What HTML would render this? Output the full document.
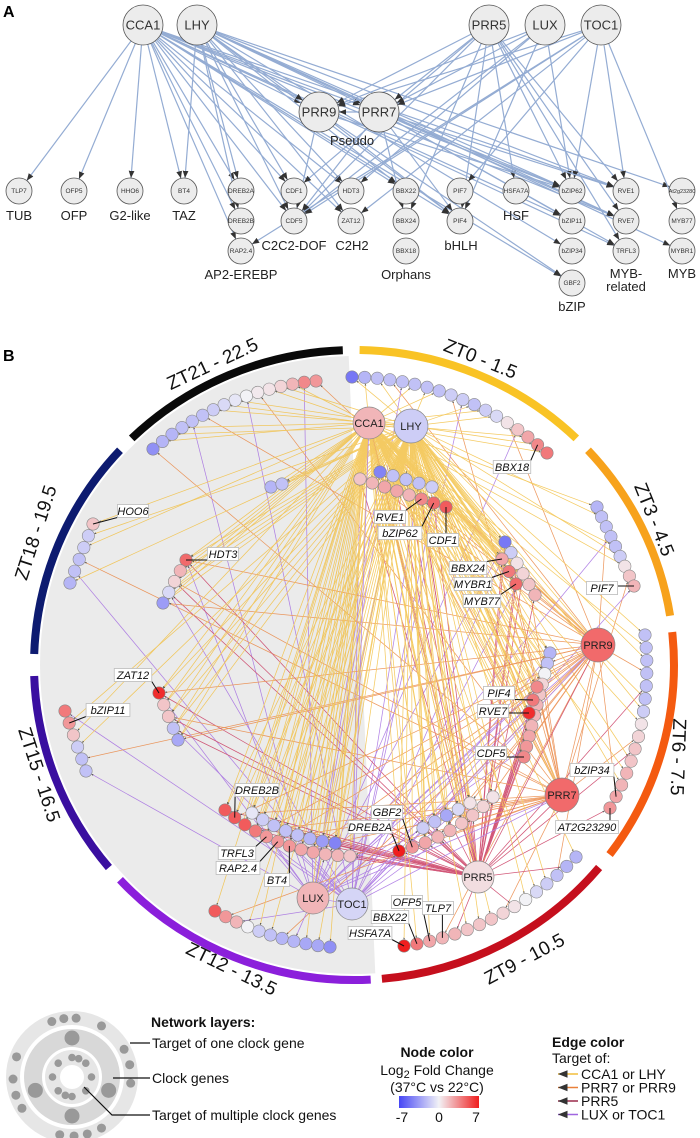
<!DOCTYPE html>
<html><head><meta charset="utf-8"><title>Clock gene network</title>
<style>
html,body{margin:0;padding:0;background:#fff;}
svg{display:block;font-family:"Liberation Sans",Arial,sans-serif;}
</style></head>
<body>
<svg id="fig" width="700" height="1138" viewBox="0 0 700 1138" xmlns="http://www.w3.org/2000/svg">
<defs>
<marker id="arrA" viewBox="0 0 10 10" refX="10" refY="5" markerWidth="6" markerHeight="6" orient="auto"><path d="M0,1 L10,5 L0,9 z" fill="#333"/></marker>
<marker id="arrB" viewBox="0 0 10 10" refX="10" refY="5" markerWidth="3" markerHeight="3" orient="auto"><path d="M0,1 L10,5 L0,9 z" fill="#333"/></marker>
<linearGradient id="fcgrad" x1="0" x2="1" y1="0" y2="0">
<stop offset="0" stop-color="#4646f5"/><stop offset="0.5" stop-color="#f2f2f6"/><stop offset="1" stop-color="#f01e1e"/></linearGradient>
<clipPath id="leftClip"><path d="M348,340 L376,990 L0,990 L0,340 Z"/></clipPath>
</defs>
<g id="panelA"></g>
<g id="panelB"></g>
<g id="legend"></g>
</svg>
<script>
const NS="http://www.w3.org/2000/svg";
function mk(tag,attrs,parent){const e=document.createElementNS(NS,tag);for(const k in attrs)e.setAttribute(k,attrs[k]);if(parent)parent.appendChild(e);return e;}
const A=document.getElementById('panelA'), B=document.getElementById('panelB'), L=document.getElementById('legend');

/* ---------------- PANEL A ---------------- */
const hubNamesA=["CCA1","LHY","PRR5","LUX","TOC1","PRR9","PRR7"];
const hubXA=[143,197,489,545,601,319,379];
const hubYA=[25,25,25,25,25,112,112];
const row1=["TLP7","OFP5","HHO6","BT4","DREB2A","CDF1","HDT3","BBX22","PIF7","HSFA7A","bZIP62","RVE1","At2g23280"];
const colX=[19,74,130,184,241,294,351,406,460,516,572,626,682];
const row2=[null,null,null,null,"DREB2B","CDF5","ZAT12","BBX24","PIF4",null,"bZIP11","RVE7","MYB77"];
const row3=[null,null,null,null,"RAP2.4",null,null,"BBX18",null,null,"bZIP34","TRFL3","MYBR1"];
const row4=[null,null,null,null,null,null,null,null,null,null,"GBF2",null,null];
const rowY=[191,221,251,283];
const familyLabels=["TUB","OFP","G2-like","TAZ","C2C2-DOF","C2H2","AP2-EREBP","Orphans","bHLH","HSF","MYB-","related","MYB","bZIP","Pseudo"];
const familyX=[19,74,130,184,294,352,241,406,461,516,626,626,682,572,352];
const familyY=[220,220,220,220,250,250,279,279,250,220,278,291,278,311,145];
const edgesA=[
["CCA1",["TLP7","OFP5","HHO6","BT4","DREB2A","DREB2B","RAP2.4","CDF1","CDF5","HDT3","ZAT12","BBX22","PIF4","bZIP62","RVE1","RVE7","PRR9","PRR7","TRFL3","GBF2","bZIP11"]],
["LHY",["BT4","DREB2A","DREB2B","CDF1","CDF5","ZAT12","HDT3","BBX22","PIF4","bZIP62","RVE1","RVE7","PRR9","PRR7","At2g23280","bZIP34","MYBR1"]],
["PRR5",["PRR9","PRR7","CDF1","CDF5","PIF4","BBX24","bZIP62","RVE1","RVE7","HSFA7A","TRFL3"]],
["LUX",["PRR9","PRR7","CDF5","HDT3","bZIP62","PIF4"]],
["TOC1",["PRR9","PRR7","CDF5","ZAT12","PIF7","bZIP62","RVE1","MYB77","RAP2.4"]],
["PRR7",["PRR9","bZIP62","RVE1","RVE7","TRFL3","CDF5","BBX24","PIF4","bZIP11"]],
["PRR9",["PIF4","CDF5","GBF2","bZIP62"]]
];
const posA={};
hubNamesA.forEach((n,i)=>posA[n]={x:hubXA[i],y:hubYA[i],r:20});
[row1,row2,row3,row4].forEach((row,ri)=>row.forEach((n,ci)=>{if(n)posA[n]={x:colX[ci],y:rowY[ri],r:13};}));
const gEA=mk('g',{},A);


edgesA.forEach(([s,ts])=>ts.forEach(t=>{
  const a=posA[s],b=posA[t];const dx=b.x-a.x,dy=b.y-a.y,d=Math.hypot(dx,dy);
  const ln=mk('line',{x1:a.x+dx/d*a.r,y1:a.y+dy/d*a.r,x2:b.x-dx/d*b.r,y2:b.y-dy/d*b.r,stroke:'#94acd3','stroke-width':1.2,'marker-end':'url(#arrA)'},gEA);
  
  
}));
Object.keys(posA).forEach(n=>{
  const p=posA[n];
  const g=mk('g',{},A);
  
  
  mk('circle',{cx:p.x,cy:p.y,r:p.r,fill:'#ececec',stroke:'#555','stroke-width':0.8},g);
  const t=mk('text',{x:p.x,y:p.y+(p.r>15?4.5:2),'text-anchor':'middle','font-size':p.r>15?13:(n.length>7?5.5:6.5),fill:'#333'},g);
  t.textContent=n;
});
familyLabels.forEach((f,i)=>{
  const t=mk('text',{x:familyX[i],y:familyY[i],'text-anchor':'middle','font-size':13,fill:'#222'},A);
  
  
  t.textContent=f;
});
const la=mk('text',{x:3,y:17,'font-size':16,'font-weight':'bold'},A);


la.textContent='A';

/* ---------------- PANEL B ---------------- */
const CX=354,CY=665,RX=320,RY=315;
const ringNames=["ZT0 - 1.5","ZT3 - 4.5","ZT6 - 7.5","ZT9 - 10.5","ZT12 - 13.5","ZT15 - 16.5","ZT18 - 19.5","ZT21 - 22.5"];
const ringStart=[1,47,84,130,177,230,272,316];
const ringEnd=[44,81,127,175,227,268,313,358];
const ringColors=["#f9c325","#f7a21c","#f45a10","#c50f1d","#8b1fdb","#3a0fa0","#0d1b70","#0a0a0a"];
const ringLabelX=[480,653,677,525,231,38,37,213];
const ringLabelY=[360,520,757,960,970,775,533,365];
const ringLabelRot=[22,68,92,-28,26,72,-72,-25];

// log2 fold-change values per node group
const fcZt0Outer=[-5,-2.5,-2,-2,-2,-2,-2,-2,-1.5,-1.5,-2,-1.5,-1,0.5,1.5,2.5,3.5,4];
const fcZt21Outer=[3,3.5,2,1,0.5,0.3,0,-0.5,-1,-1.5,-2,-2,-2,-2.5,-2.5,-4];
const fcZt0InnerA=[-4.5,-2,-2,-2,-1.5];
const fcZt0InnerB=[1.5,2,2.5,2.5,2,3.5,4.5,5];
const fcPair=[-2.5,-2];
const fcZt18Outer=[1.5,-1.5,-1.5,-2,-2,-2.5];
const fcZt18Inner=[4.5,2,1,-1,-3.5];
const fcZt3Outer=[-2.5,-2,-2,-2,-2,-1.5,0.5,1.5,2];
const fcZt3InnerA=[-5,-1.5,0.5,1,1.5,2];
const fcZt3InnerB=[2.5,4,4.5];
const fcZt6Outer=[-2,-2,-2,-2,-2,-2,-1.5,0.5,1,1.5,1.5,2,2,2.5,3];
const fcZt6InnerA=[-2.5,-2,0,1,1.5,2,2,2,2.5,3,3.5];
const fcZt6InnerB=[3.5,4,6.5];
const fcZt15Outer=[4,3,1.5,-1.5,-2,-2];
const fcZt15Inner=[6.5,1.5,1.5,-2,-3];
const fcZt12InnerA=[5,5,5,4,3,3,3,2.5,2.5,2,2,1.5];
const fcZt12InnerB=[-0.5,-1.5,-2,-2,-2,-2.5,-3.5,-4.5];
const fcZt9InnerA=[7,3,2.5,2,2,1.5,1.5,1,0.5];
const fcZt9InnerB=[-1.5,-2,-3,-1,0.5];
const fcZt12Outer=[5,3,2,0,-1.5,-2,-2.5,-2.5,-3,-3,-4];
const fcZt9Outer=[7,4,2.5,2,2,1.5,1.5,1.5,1,0.5,0,-1,-1.5,-2,-2.5,-2.5];

const groupDefs=[
 {id:'zt0o',vals:fcZt0Outer,s:[352,377],e:[547,453],spread:3},
 {id:'zt21o',vals:fcZt21Outer,s:[316,381],e:[153,449],spread:2},
 {id:'zt0ia',vals:fcZt0InnerA,s:[380,472],e:[432,487],spread:0},
 {id:'zt0ib',vals:fcZt0InnerB,s:[360,479],e:[446,507],spread:0},
 {id:'pair',vals:fcPair,s:[271,487],e:[282,484],spread:0},
 {id:'zt18o',vals:fcZt18Outer,s:[93,524],e:[70,583],spread:0},
 {id:'zt18i',vals:fcZt18Inner,s:[186,560],e:[163,603],spread:0},
 {id:'zt3o',vals:fcZt3Outer,s:[597,507],e:[634,586],spread:0},
 {id:'zt3ia',vals:fcZt3InnerA,s:[505,542],e:[535,595],spread:0},
 {id:'zt3ib',vals:fcZt3InnerB,s:[502,559],e:[516,584],spread:0},
 {id:'zt6o',vals:fcZt6Outer,s:[645,635],e:[610,808],spread:2},
 {id:'zt6ia',vals:fcZt6InnerA,s:[550,653],e:[524,757],spread:0},
 {id:'zt6ib',vals:fcZt6InnerB,s:[537,687],e:[529,713],spread:0},
 {id:'zt15o',vals:fcZt15Outer,s:[65,711],e:[86,771],spread:0},
 {id:'zt15i',vals:fcZt15Inner,s:[159,693],e:[178,740],spread:0},
 {id:'zt12ia',vals:fcZt12InnerA,s:[225,810],e:[350,856],spread:1},
 {id:'zt12ib',vals:fcZt12InnerB,s:[252,813],e:[335,843],spread:1},
 {id:'zt9ia',vals:fcZt9InnerA,s:[399,851],e:[493,797],spread:1},
 {id:'zt9ib',vals:fcZt9InnerB,s:[423,828],e:[470,803],spread:0},
 {id:'zt12o',vals:fcZt12Outer,s:[215,911],e:[330,947],spread:2},
 {id:'zt9o',vals:fcZt9Outer,s:[404,946],e:[576,857],spread:3}
];
const hubNamesB=["CCA1","LHY","PRR9","PRR7","PRR5","LUX","TOC1"];
const hubFcB=[2,-1.5,4.5,4.5,0.7,2,-1.2];
const hubXB=[369,411,598,562,478,313,352];
const hubYB=[423,426,645,795,877,898,904];
const hubRB=[16,17,17,17,16,16,16];
const labelNames=["BBX18","RVE1","bZIP62","CDF1","HOO6","HDT3","BBX24","MYBR1","MYB77","PIF7","ZAT12","bZIP11","PIF4","RVE7","CDF5","bZIP34","AT2G23290","DREB2B","GBF2","DREB2A","TRFL3","RAP2.4","BT4","OFP5","TLP7","BBX22","HSFA7A"];
const labelGroup=["zt0o","zt0ib","zt0ib","zt0ib","zt18o","zt18i","zt3ib","zt3ib","zt3ib","zt3o","zt15i","zt15o","zt6ib","zt6ib","zt6ia","zt6o","zt6o","zt12ia","zt9ia","zt9ia","zt12ia","zt12ia","zt12ia","zt9o","zt9o","zt9o","zt9o"];
const labelIdx=[16,5,6,7,0,0,0,1,2,8,0,1,1,2,10,13,14,1,1,0,4,5,6,2,3,1,0];
const labelX=[512,390,400,443,133,223,468,473,482,602,133,108,499,493,491,592,587,257,387,370,237,238,277,407,438,390,370];
const labelY=[467,517,533,540,511,554,568,584,601,588,675,710,693,711,753,770,827,790,812,827,853,868,880,902,908,917,933];

function fcColor(v){
  const t=Math.max(-1,Math.min(1,v/7));
  const w=[242,242,246];
  const lo=[70,70,245], hi=[240,30,30];
  const c=t<0?w.map((x,i)=>Math.round(x+(lo[i]-x)*(-t))):w.map((x,i)=>Math.round(x+(hi[i]-x)*t));
  return 'rgb('+c.join(',')+')';
}
function toPolar(p){const dx=(p[0]-CX)/RX,dy=(p[1]-CY)/RY;return {a:Math.atan2(dx,-dy),r:Math.hypot(dx,dy)};}
function fromPolar(a,r){return [CX+RX*r*Math.sin(a),CY-RY*r*Math.cos(a)];}
function nodePositions(g){
  const n=g.vals.length,ps=toPolar(g.s),pe=toPolar(g.e);
  let da=pe.a-ps.a; if(da>Math.PI)da-=2*Math.PI; if(da<-Math.PI)da+=2*Math.PI;
  const out=[];
  for(let i=0;i<n;i++){const t=n>1?i/(n-1):0;
    if(g.spread){out.push(fromPolar(ps.a+da*t,ps.r+(pe.r-ps.r)*t));}
    else out.push([g.s[0]+(g.e[0]-g.s[0])*t,g.s[1]+(g.e[1]-g.s[1])*t]);}
  return out;
}
function ellipsePt(deg,r){const a=deg*Math.PI/180;return [CX+r*RX/318*Math.sin(a), CY-r*RY/318*Math.cos(a)];}
function arcPath(d0,d1,r){const p0=ellipsePt(d0,r),p1=ellipsePt(d1,r);const rx=r*RX/318,ry=r*RY/318;
  return 'M'+p0[0].toFixed(1)+','+p0[1].toFixed(1)+' A'+rx.toFixed(1)+','+ry.toFixed(1)+' 0 '+((d1-d0)>180?1:0)+' 1 '+p1[0].toFixed(1)+','+p1[1].toFixed(1);}

const bg=mk('ellipse',{cx:CX,cy:CY,rx:RX-6,ry:RY-6,fill:'#ebebeb','clip-path':'url(#leftClip)'},B);



ringNames.forEach((nm,i)=>{
  const p=mk('path',{d:arcPath(ringStart[i],ringEnd[i],318),fill:'none',stroke:ringColors[i],'stroke-width':8},B);
  
  
  const t=mk('text',{x:ringLabelX[i],y:ringLabelY[i],'text-anchor':'middle','dominant-baseline':'middle','font-size':19,fill:'#111',transform:'rotate('+ringLabelRot[i]+' '+ringLabelX[i]+' '+ringLabelY[i]+')'},B);
  
  
  t.textContent=nm;
});

const groupPos={};
groupDefs.forEach(g=>groupPos[g.id]=nodePositions(g));
const hubPos={};
hubNamesB.forEach((n,i)=>hubPos[n]=[hubXB[i],hubYB[i],hubRB[i]]);

const edgeColYellow='#f2be3c',edgeColOrange='#e98039',edgeColCrimson='#c72f58',edgeColPurple='#a066e0';
const gEB=mk('g',{'stroke-width':0.75,opacity:0.8},B);


function edge(src,p,col){
  const h=hubPos[src];const dx=p[0]-h[0],dy=p[1]-h[1],d=Math.hypot(dx,dy)||1;
  const ln=mk('line',{x1:h[0]+dx/d*h[2],y1:h[1]+dy/d*h[2],x2:p[0]-dx/d*6,y2:p[1]-dy/d*6,stroke:col,'marker-end':'url(#arrB)'},gEB);
  
  
}
const multi={zt0ia:1,zt0ib:1,pair:0,zt3ia:1,zt3ib:1,zt6ia:1,zt6ib:1,zt12ia:1,zt12ib:1,zt9ia:1,zt9ib:1,zt18i:1,zt15i:1};
groupDefs.forEach((g,gi)=>{
  groupPos[g.id].forEach((p,i)=>{
    const k=i+gi*3;
    const m=multi[g.id];
    if(g.id==='zt0o'||g.id==='zt21o'||g.id==='zt18o'||g.id==='zt15o'||g.id==='zt12o'||g.id==='zt9o'||g.id==='zt3o'||g.id==='zt6o'){
      const r=k%5;
      if(r<3) edge(k%2?'CCA1':'LHY',p,edgeColYellow);
      else if(r===3) edge(k%2?'PRR9':'PRR7',p,edgeColOrange);
      else edge(g.id==='zt9o'||g.id==='zt6o'?'PRR5':(k%2?'TOC1':'LUX'),p,g.id==='zt9o'||g.id==='zt6o'?edgeColCrimson:edgeColPurple);
    } else {
      edge('CCA1',p,edgeColYellow); edge('LHY',p,edgeColYellow);
      if(m&&k%2===0) edge(k%4?'PRR9':'PRR7',p,edgeColOrange);
      if(m&&k%3!==1) edge('PRR5',p,edgeColCrimson);
      if(m&&k%3===0) edge(k%2?'TOC1':'LUX',p,edgeColPurple);
    }
  });
});
[["PRR5","PRR9",edgeColCrimson],["PRR5","PRR7",edgeColCrimson],["TOC1","PRR9",edgeColPurple],["TOC1","PRR7",edgeColPurple],["LUX","PRR9",edgeColPurple],["LUX","PRR7",edgeColPurple],["CCA1","PRR9",edgeColYellow],["LHY","PRR9",edgeColYellow],["CCA1","PRR7",edgeColYellow],["LHY","PRR7",edgeColYellow],["TOC1","CCA1",edgeColPurple],["PRR7","PRR9",edgeColOrange],["PRR5","CCA1",edgeColCrimson],["LUX","TOC1",edgeColPurple],["CCA1","PRR5",edgeColYellow],["LHY","LUX",edgeColYellow]].forEach(e=>{
  const t=hubPos[e[1]];edge(e[0],[t[0]-(t[0]-hubPos[e[0]][0])*0.001,t[1]],e[2]);
});

const gNB=mk('g',{},B);


groupDefs.forEach(g=>{
  groupPos[g.id].forEach((p,i)=>{
    const c=mk('circle',{cx:p[0].toFixed(1),cy:p[1].toFixed(1),r:6.2,fill:fcColor(g.vals[i]),stroke:'#888','stroke-width':0.6},gNB);
    
    
  });
});
hubNamesB.forEach((n,i)=>{
  const g=mk('g',{},B);
  
  
  mk('circle',{cx:hubXB[i],cy:hubYB[i],r:hubRB[i],fill:fcColor(hubFcB[i]),stroke:'#888','stroke-width':0.7},g);
  const t=mk('text',{x:hubXB[i],y:hubYB[i]+4,'text-anchor':'middle','font-size':11,fill:'#222'},g);
  t.textContent=n;
});
labelNames.forEach((n,i)=>{
  const p=groupPos[labelGroup[i]][labelIdx[i]];
  const g=mk('g',{},B);
  
  
  const w=n.length*6.3+6,h=13;
  const bx=labelX[i]-w/2,by=labelY[i]-h/2;
  const ex=Math.max(bx,Math.min(bx+w,p[0])),ey=Math.max(by,Math.min(by+h,p[1]));
  mk('line',{x1:ex,y1:ey,x2:p[0],y2:p[1],stroke:'#111','stroke-width':1},g);
  mk('rect',{x:bx,y:by,width:w,height:h,fill:'#fff',stroke:'#bbb','stroke-width':0.8},g);
  const t=mk('text',{x:labelX[i],y:labelY[i]+4,'text-anchor':'middle','font-size':11,'font-style':'italic',fill:'#111'},g);
  t.textContent=n;
});
const lb=mk('text',{x:3,y:361,'font-size':16,'font-weight':'bold'},B);


lb.textContent='B';

/* ---------------- LEGEND ---------------- */
const lc=[72,1077];
const lg=mk('g',{},L);


mk('circle',{cx:lc[0],cy:lc[1],r:66,fill:'#e6e6e6'},lg);
mk('circle',{cx:lc[0],cy:lc[1],r:52,fill:'#fff'},lg);
mk('circle',{cx:lc[0],cy:lc[1],r:48,fill:'#d8d8d8'},lg);
mk('circle',{cx:lc[0],cy:lc[1],r:30,fill:'#fff'},lg);
mk('circle',{cx:lc[0],cy:lc[1],r:27,fill:'#e6e6e6'},lg);
mk('circle',{cx:lc[0],cy:lc[1],r:12,fill:'#fff'},lg);
const outerDotAngles=[-20,-8,4,30,62,78,96,150,165,178,192,238,252,268,290];
outerDotAngles.forEach(a=>{const r=a*Math.PI/180;mk('circle',{cx:lc[0]+59*Math.sin(r),cy:lc[1]-59*Math.cos(r),r:4.5,fill:'#999'},lg);});
[0,110,180,250].forEach(a=>{const r=a*Math.PI/180;mk('circle',{cx:lc[0]+39*Math.sin(r),cy:lc[1]-39*Math.cos(r),r:7.5,fill:'#999'},lg);});
[0,45,90,135,180,225,270,315,20,200].forEach(a=>{const r=a*Math.PI/180;mk('circle',{cx:lc[0]+19.5*Math.sin(r),cy:lc[1]-19.5*Math.cos(r),r:3.8,fill:'#999'},lg);});
function txt(x,y,s,attrs,name){const t=mk('text',Object.assign({x:x,y:y,'font-size':14,fill:'#111'},attrs||{}),L);t.textContent=s;return t;}
txt(151,1027,'Network layers:',{'font-weight':'bold'},'legend-layers-title');
mk('line',{x1:130,y1:1043,x2:150,y2:1043,stroke:'#111','stroke-width':1.2},L);
txt(152,1048,'Target of one clock gene',{},'legend-layer-outer');
mk('line',{x1:113,y1:1078,x2:150,y2:1078,stroke:'#111','stroke-width':1.2},L);
txt(152,1083,'Clock genes',{},'legend-layer-clock');
mk('polyline',{points:'84,1087 112,1115 150,1115',fill:'none',stroke:'#111','stroke-width':1.2},L);
txt(152,1120,'Target of multiple clock genes',{},'legend-layer-multi');

txt(437,1057,'Node color',{'font-weight':'bold','text-anchor':'middle'},'legend-node-title');
const lt=txt(437,1075,'',{'text-anchor':'middle'},'legend-node-subtitle');
lt.innerHTML='Log<tspan dy="3" font-size="11">2</tspan><tspan dy="-3"> Fold Change</tspan>';
txt(437,1092,'(37°C vs 22°C)',{'text-anchor':'middle'},'legend-node-conditions');
const gr=mk('rect',{x:399,y:1096,width:80,height:12,fill:'url(#fcgrad)'},L);


const cbTicks=["-7","0","7"];
const cbTickVals=[-7,0,7];
cbTickVals.forEach((v,i)=>txt(439+v/7*37,1122,cbTicks[i],{'text-anchor':'middle'},'legend-colorbar-tick'));

txt(552,1047,'Edge color',{'font-weight':'bold'},'legend-edge-title');
txt(552,1063,'Target of:',{},'legend-edge-subtitle');
const edgeLegNames=["CCA1 or LHY","PRR7 or PRR9","PRR5","LUX or TOC1"];
const edgeLegCols=[edgeColYellow,edgeColOrange,'#9a2a4a',edgeColPurple];
edgeLegNames.forEach((n,i)=>{
  const y=1074+i*13.5;
  const ln=mk('line',{x1:578,y1:y,x2:558,y2:y,stroke:edgeLegCols[i],'stroke-width':1.6,'marker-end':'url(#arrA)'},L);
  
  
  txt(581,y+5,n,{},'legend-edge-entry');
});
</script>
</body></html>
